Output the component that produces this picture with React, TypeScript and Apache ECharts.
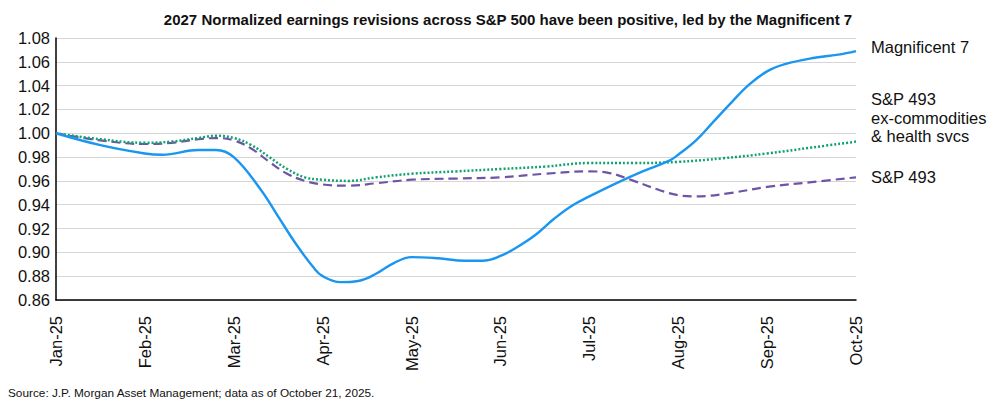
import React, { useEffect, useRef } from "react";
import * as echarts from "echarts";

const monthLabels = ["Jan-25", "Feb-25", "Mar-25", "Apr-25", "May-25", "Jun-25", "Jul-25", "Aug-25", "Sep-25", "Oct-25"];

const mag7X = [0, 0.5, 1.0, 1.2, 1.6, 1.8, 2.0, 2.3, 2.5, 2.7, 2.9, 3.0, 3.2, 3.4, 3.6, 3.8, 4.0, 4.3, 4.6, 4.8, 5.0, 5.2, 5.4, 5.6, 5.8, 6.0, 6.3, 6.6, 6.9, 7.0, 7.2, 7.4, 7.6, 7.8, 8.0, 8.2, 8.5, 8.8, 9.0];
const mag7Y = [1.0, 0.99, 0.983, 0.982, 0.986, 0.986, 0.98, 0.953, 0.93, 0.907, 0.887, 0.88, 0.875, 0.876, 0.882, 0.891, 0.896, 0.895, 0.893, 0.893, 0.897, 0.905, 0.915, 0.928, 0.939, 0.947, 0.958, 0.968, 0.977, 0.982, 0.994, 1.01, 1.026, 1.041, 1.052, 1.058, 1.063, 1.066, 1.069];

const exX = [0, 0.5, 1.0, 1.3, 1.6, 1.8, 2.0, 2.2, 2.4, 2.6, 2.8, 3.0, 3.3, 3.6, 4.0, 4.5, 5.0, 5.5, 6.0, 6.5, 7.0, 7.5, 8.0, 8.5, 9.0];
const exY = [1.0, 0.995, 0.992, 0.993, 0.996, 0.998, 0.996, 0.99, 0.98, 0.97, 0.963, 0.961, 0.96, 0.963, 0.966, 0.968, 0.97, 0.972, 0.975, 0.975, 0.976, 0.979, 0.983, 0.988, 0.993];

const sp493X = [0, 0.5, 1.0, 1.3, 1.6, 1.8, 2.0, 2.2, 2.4, 2.6, 2.8, 3.0, 3.3, 3.6, 4.0, 4.5, 5.0, 5.5, 6.0, 6.2, 6.5, 6.8, 7.0, 7.2, 7.6, 8.0, 8.5, 9.0];
const sp493Y = [1.0, 0.994, 0.991, 0.992, 0.995, 0.996, 0.994, 0.987, 0.976, 0.966, 0.96, 0.957, 0.956, 0.958, 0.961, 0.962, 0.963, 0.966, 0.968, 0.967, 0.96, 0.952, 0.948, 0.947, 0.95, 0.955, 0.959, 0.963];

const yTicks = { min: 0.86, max: 1.08, interval: 0.02 };

const title = "2027 Normalized earnings revisions across S&P 500 have been positive, led by the Magnificent 7";
const source = "Source: J.P. Morgan Asset Management; data as of October 21, 2025.";
const labelMag7 = "Magnificent 7";
const labelEx = "S&P 493\nex-commodities\n& health svcs";
const labelSp = "S&P 493";

const pair = (xs: number[], ys: number[]) => xs.map((x, i) => [x, ys[i]]);

const FONT = "'Liberation Sans', Arial, sans-serif";

export default function App() {
  const ref = useRef<HTMLDivElement>(null);
  useEffect(() => {
    document.body.style.margin = "0";
    const chart = echarts.init(ref.current!, null, { renderer: "svg" });
    chart.setOption({
      animation: false,
      backgroundColor: "#ffffff",
      textStyle: { fontFamily: FONT },
      title: {
        text: title,
        left: 503,
        textAlign: "center",
        top: 7,
        textStyle: { fontFamily: FONT, fontSize: 15, fontWeight: "bold", color: "#111111" },
      },
      grid: { left: 56, right: 149, top: 38, bottom: 113 },
      xAxis: {
        type: "value",
        min: 0,
        max: 9,
        interval: 1,
        axisLine: { show: true, lineStyle: { color: "#000000", width: 1.5 } },
        axisTick: { show: false },
        splitLine: { show: false },
        axisLabel: {
          rotate: 90,
          margin: 16,
          fontSize: 16.5,
          color: "#111111",
          fontFamily: FONT,
          formatter: (v: number) => monthLabels[Math.round(v)] ?? "",
        },
      },
      yAxis: {
        type: "value",
        min: yTicks.min,
        max: yTicks.max,
        interval: yTicks.interval,
        axisLine: { show: true, lineStyle: { color: "#000000", width: 1.5 } },
        axisTick: { show: false },
        splitLine: { show: true, lineStyle: { color: "#d6d6d6", width: 1 } },
        axisLabel: {
          margin: 6,
          fontSize: 16.5,
          color: "#111111",
          fontFamily: FONT,
          formatter: (v: number) => v.toFixed(2),
        },
      },
      series: [
        {
          name: "Magnificent 7",
          type: "line",
          data: pair(mag7X, mag7Y),
          smooth: 0.4,
          showSymbol: false,
          lineStyle: { color: "#1a96f0", width: 2.4 },
          z: 3,
        },
        {
          name: "S&P 493 ex-commodities & health svcs",
          type: "line",
          data: pair(exX, exY),
          smooth: 0.4,
          showSymbol: false,
          lineStyle: { color: "#10a36e", width: 2.5, type: [2, 2] },
          z: 2,
        },
        {
          name: "S&P 493",
          type: "line",
          data: pair(sp493X, sp493Y),
          smooth: 0.4,
          showSymbol: false,
          lineStyle: { color: "#6e54a6", width: 2.2, type: [9, 5] },
          z: 1,
        },
      ],
      graphic: [
        {
          type: "text",
          left: 871,
          top: 38,
          style: { text: labelMag7, fontSize: 16.5, fontFamily: FONT, fill: "#111111" },
        },
        {
          type: "text",
          left: 871,
          top: 90,
          style: { text: labelEx, fontSize: 16.5, lineHeight: 18.5, fontFamily: FONT, fill: "#111111" },
        },
        {
          type: "text",
          left: 871,
          top: 168,
          style: { text: labelSp, fontSize: 16.5, fontFamily: FONT, fill: "#111111" },
        },
        {
          type: "text",
          left: 8,
          top: 387,
          style: { text: source, fontSize: 11.8, fontFamily: FONT, fill: "#111111" },
        },
      ],
    });
    return () => chart.dispose();
  }, []);
  return <div ref={ref} style={{ width: 1005, height: 413 }} />;
}
